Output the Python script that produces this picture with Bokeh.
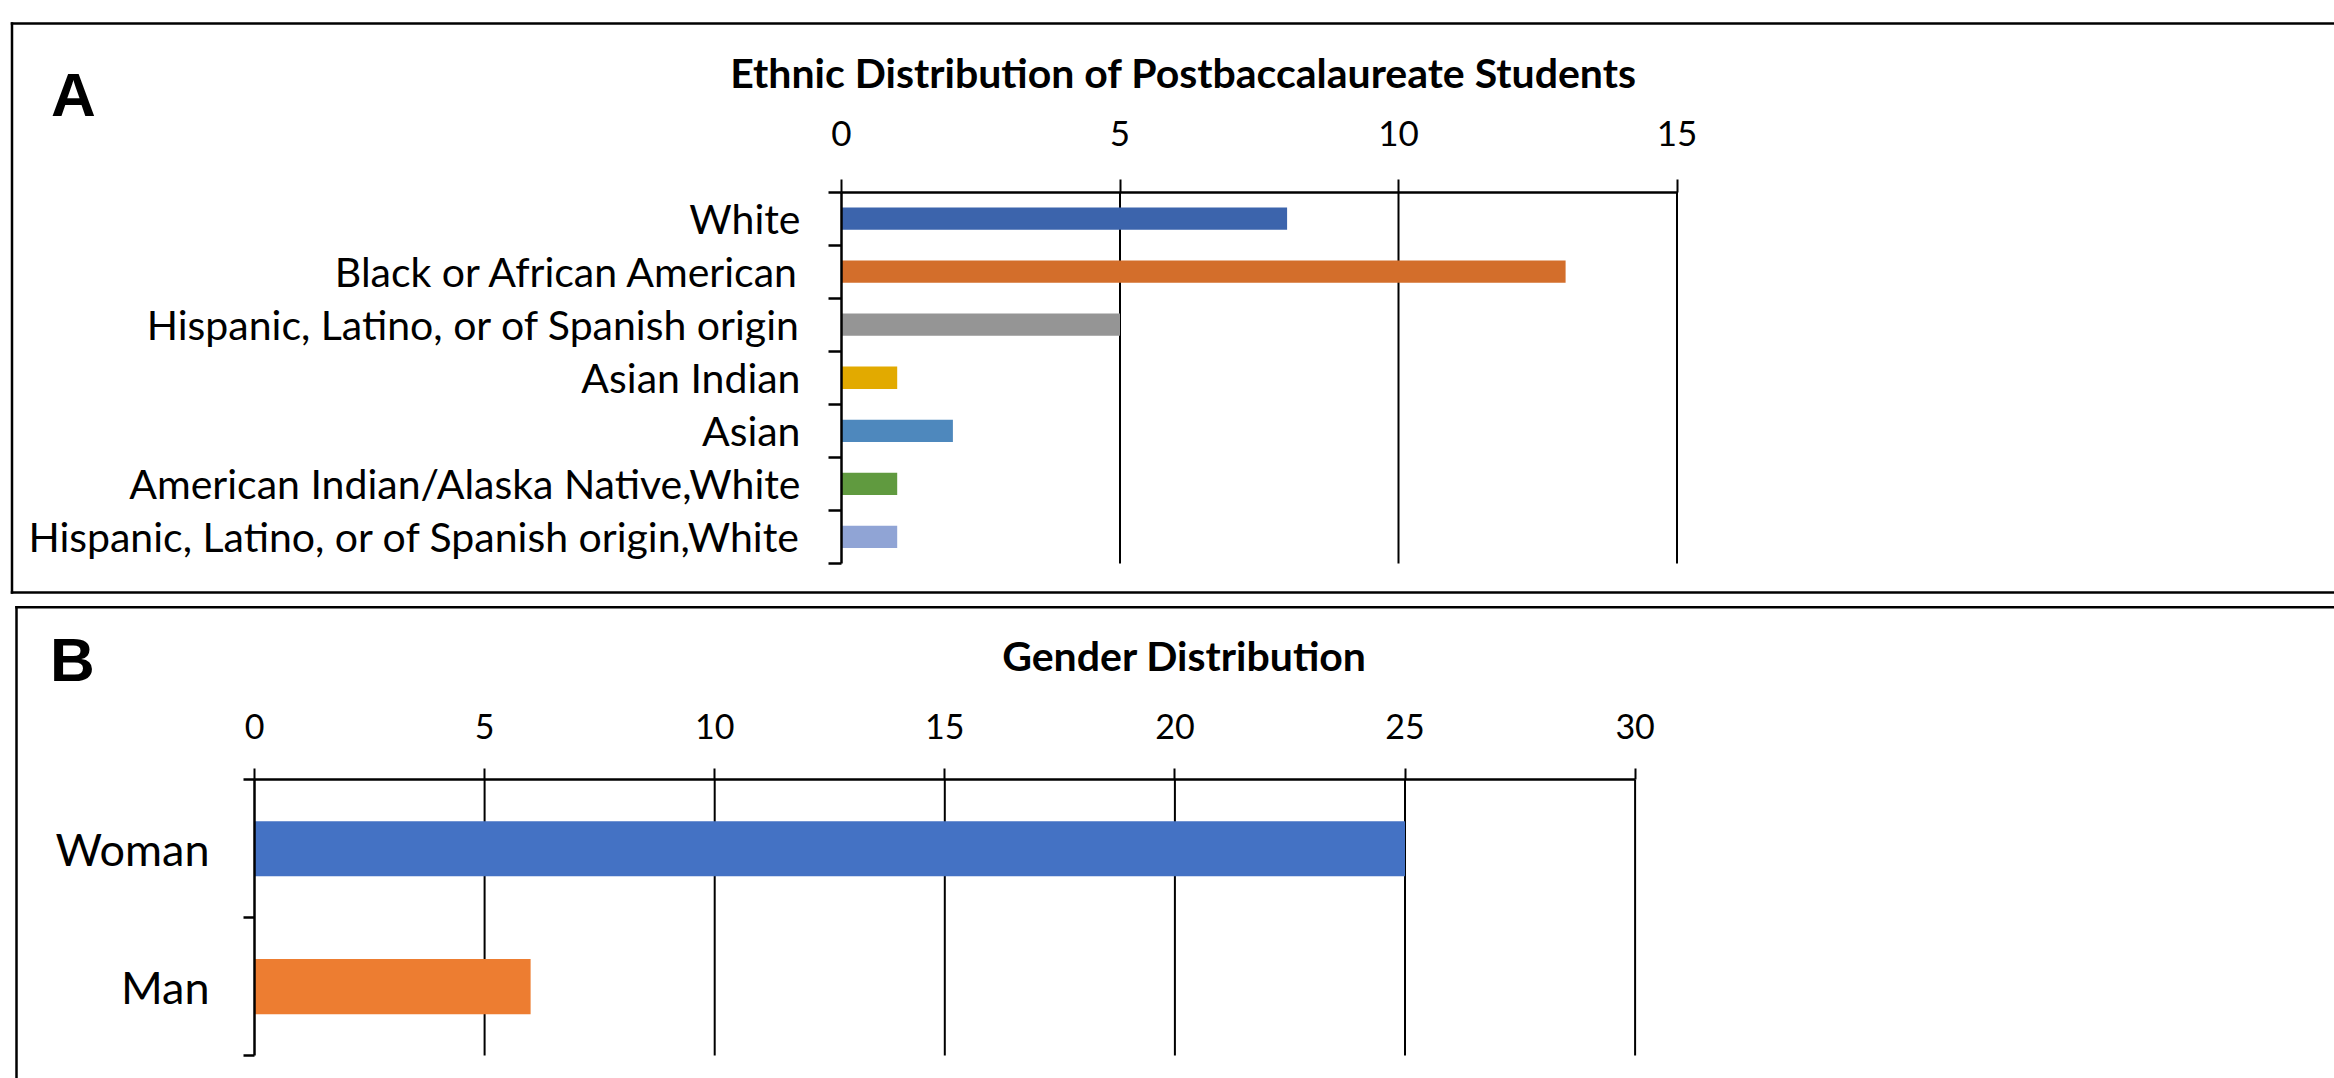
from bokeh.embed import file_html
from bokeh.resources import INLINE
from bokeh.plotting import figure
from bokeh.layouts import column
from bokeh.models import (Range1d, LinearAxis, FixedTicker, Label,
                          BoxAnnotation, ColumnDataSource)

# ---- data -------------------------------------------------------------
ethnic_categories = [
    "White",
    "Black or African American",
    "Hispanic, Latino, or of Spanish origin",
    "Asian Indian",
    "Asian",
    "American Indian/Alaska Native,White",
    "Hispanic, Latino, or of Spanish origin,White",
]
ethnic_counts = [8, 13, 5, 1, 2, 1, 1]
ethnic_colors = ["#3C64AC", "#D36E2B", "#959595", "#E2AA00",
                 "#4E88BD", "#609A3F", "#90A4D5"]
ethnic_ticks = [0, 5, 10, 15]

gender_categories = ["Woman", "Man"]
gender_counts = [25, 6]
gender_colors = ["#4472C4", "#ED7D31"]
gender_ticks = [0, 5, 10, 15, 20, 25, 30]

W = 2334
FONT = "Lato"
FRAME_W = 2.5


def edge(p, height, left, right, top, bottom):
    """A solid black strip given in canvas pixels (y measured downward)."""
    p.add_layout(BoxAnnotation(
        left=left, right=right, top=height - top, bottom=height - bottom,
        left_units="screen", right_units="screen",
        top_units="screen", bottom_units="screen",
        fill_color="black", fill_alpha=1.0, line_color=None))


def panel(letter, title, cats, counts, colors, ticks, *, height, zero_px,
          unit_px, axis_px, row_px, bar_h, box, title_x, title_base,
          letter_x, letter_base, tick_size, cat_size, title_size, tick_out,
          tick_standoff, cat_standoff):
    n = len(cats)
    # frame covers the whole canvas; ranges place the value 0 / first row
    x_rng = Range1d(-zero_px / unit_px, (W - zero_px) / unit_px)
    top_row = -0.5 - axis_px / row_px
    bottom_row = -0.5 + (height - axis_px) / row_px
    y_rng = Range1d(bottom_row, top_row)

    p = figure(width=W, height=height, x_range=x_rng, y_range=y_rng,
               output_backend="svg", toolbar_location=None,
               x_axis_location=None, y_axis_location=None, min_border=0,
               outline_line_color=None, background_fill_color="white",
               border_fill_color="white")
    for g in p.grid:
        g.visible = False

    rows = list(range(n))
    src = ColumnDataSource(dict(y=rows, right=counts, color=colors, cat=cats))

    # vertical gridlines between the value axis and the last category
    grid_x = ticks[1:]
    p.segment(x0=grid_x, x1=grid_x, y0=-0.5, y1=n - 0.5,
              line_color="black", line_width=2)

    p.hbar(y="y", left=0, right="right", height=bar_h, fill_color="color",
           line_color=None, source=src)

    xaxis = LinearAxis(fixed_location=-0.5, ticker=FixedTicker(ticks=ticks),
                       bounds=(ticks[0], ticks[-1]))
    xaxis.axis_line_color = "black"
    xaxis.axis_line_width = 2.5
    xaxis.major_tick_line_color = "black"
    xaxis.major_tick_line_width = 2
    xaxis.major_tick_out = tick_out
    xaxis.major_tick_in = 0
    xaxis.minor_tick_line_color = None
    xaxis.major_label_standoff = tick_standoff
    xaxis.major_label_text_font = FONT
    xaxis.major_label_text_font_size = tick_size
    xaxis.major_label_text_color = "black"
    p.add_layout(xaxis, "above")

    yaxis = LinearAxis(
        fixed_location=0,
        ticker=FixedTicker(ticks=rows,
                           minor_ticks=[i - 0.5 for i in range(n + 1)]),
        bounds=(-0.5, n - 0.5),
        major_label_overrides={i: c for i, c in enumerate(cats)},
    )
    yaxis.axis_line_color = "black"
    yaxis.axis_line_width = 2.5
    yaxis.major_tick_line_color = None
    yaxis.major_tick_out = 0
    yaxis.major_tick_in = 0
    yaxis.minor_tick_line_color = "black"
    yaxis.minor_tick_line_width = 2.5
    yaxis.minor_tick_out = tick_out
    yaxis.minor_tick_in = 0
    yaxis.major_label_standoff = cat_standoff
    yaxis.major_label_text_font = FONT
    yaxis.major_label_text_font_size = cat_size
    yaxis.major_label_text_color = "black"
    p.add_layout(yaxis, "left")

    # panel frame: open to the right (and below when bottom is None)
    left, top, bottom = box
    h = FRAME_W / 2
    low = bottom + h if bottom is not None else height + 50
    edge(p, height, left - h, W + 50, top - h, top + h)
    edge(p, height, left - h, left + h, top - h, low)
    if bottom is not None:
        edge(p, height, left - h, W + 50, bottom - h, bottom + h)

    p.add_layout(Label(x=title_x, y=height - title_base, x_units="screen",
                       y_units="screen", text=title, text_align="center",
                       text_baseline="alphabetic", text_font=FONT,
                       text_font_style="bold", text_font_size=title_size,
                       text_color="black"))
    p.add_layout(Label(x=letter_x, y=height - letter_base, x_units="screen",
                       y_units="screen", text=letter, text_align="center",
                       text_baseline="alphabetic", text_font="Liberation Sans",
                       text_font_style="bold", text_font_size="62px",
                       text_color="black"))
    return p


p_a = panel("A", "Ethnic Distribution of Postbaccalaureate Students",
            ethnic_categories, ethnic_counts, ethnic_colors, ethnic_ticks,
            height=599, zero_px=841, unit_px=55.7, axis_px=191.5,
            row_px=53.07, bar_h=0.42, box=(11.5, 23, 592),
            title_x=1183, title_base=72, letter_x=73, letter_base=94,
            tick_size="35px", cat_size="41px", title_size="41px",
            tick_out=13, tick_standoff=33, cat_standoff=28)

p_b = panel("B", "Gender Distribution",
            gender_categories, gender_counts, gender_colors, gender_ticks,
            height=479, zero_px=254, unit_px=46.02, axis_px=180.3,
            row_px=137.85, bar_h=0.40, box=(16, 7.7, None),
            title_x=1184, title_base=56, letter_x=72, letter_base=60,
            tick_size="34px", cat_size="45px", title_size="41px",
            tick_out=11, tick_standoff=30, cat_standoff=34)

layout = column(p_a, p_b, spacing=0)

open("out.html", "w").write(file_html(layout, INLINE))
